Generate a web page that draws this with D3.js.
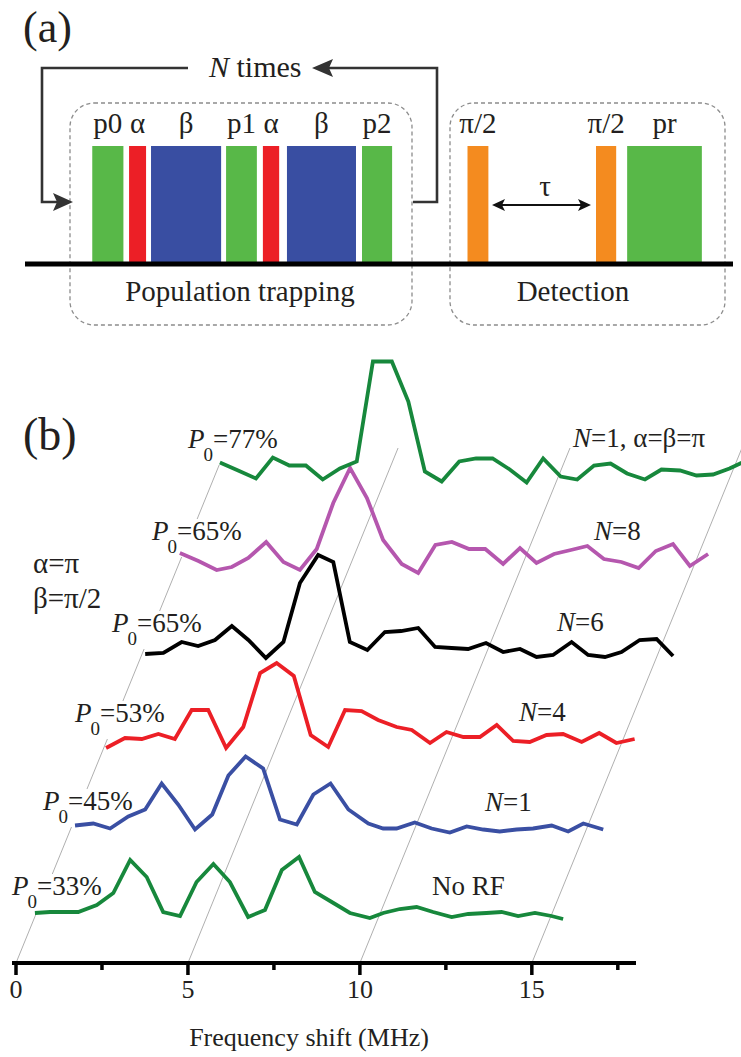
<!DOCTYPE html>
<html><head><meta charset="utf-8">
<script src="https://cdn.jsdelivr.net/npm/d3@7"></script>
<style>
body{margin:0;background:#fff}
svg{display:block}
svg text{font-family:"Liberation Serif","DejaVu Serif","Times New Roman",Times,serif;fill:#231f20}
</style>
</head><body>
<svg id="chart" width="741" height="1057" font-family="Liberation Serif, DejaVu Serif, serif"></svg>
<script>
// ---------- Panel (a): pulse sequence (time in arbitrary units) ----------
const pulseNames  = ["p0","α","β","p1","α","β","p2","π/2","π/2","pr"];
const pulseStart  = [19.0, 29.4, 35.6, 56.8, 67.2, 74.0, 95.2, 125.0, 161.3, 170.1];
const pulseLength = [8.8, 4.8, 19.8, 8.7, 4.6, 19.5, 8.5, 5.9, 5.7, 21.1];
const pulseKind   = ["probe","alpha","beta","probe","alpha","beta","probe","half","half","probe"];

// ---------- Panel (b): spectra ----------
const curveNames = ["No RF","N=1","N=4","N=6","N=8","N=1, α=β=π"];
const p0Values   = ["33%","45%","53%","65%","65%","77%"];

const freq0 = [0.04,0.48,0.82,1.30,1.84,2.32,2.81,3.29,3.77,4.26,4.74,5.23,5.71,6.24,6.73,7.22,7.72,8.18,8.72,9.20,9.78,10.17,10.65,11.14,11.62,12.16,12.64,13.17,13.61,14.09,14.58,15.06,15.40];
const sig0  = [0.07,0.08,0.08,0.08,0.15,0.27,0.60,0.43,0.08,0.04,0.38,0.56,0.38,0.03,0.10,0.50,0.63,0.28,0.17,0.07,0.02,0.07,0.11,0.13,0.08,0.03,0.06,0.07,0.08,0.04,0.07,0.04,0.01];

const freq1 = [0.18,0.71,1.20,1.73,2.22,2.70,3.18,3.67,4.17,4.64,5.14,5.65,6.14,6.63,7.11,7.61,8.13,8.71,9.14,9.53,10.06,10.55,11.08,11.57,12.05,12.53,13.02,13.50,14.04,14.52,14.96,15.54];
const sig1  = [0.08,0.10,0.05,0.17,0.24,0.50,0.29,0.04,0.19,0.58,0.77,0.65,0.14,0.09,0.39,0.50,0.24,0.10,0.05,0.05,0.11,0.05,0.01,0.07,0.04,0.02,0.04,0.05,0.08,0.02,0.10,0.04];

const freq2 = [0.08,0.63,1.12,1.60,2.08,2.57,3.05,3.57,4.07,4.56,5.04,5.54,6.03,6.54,7.03,7.51,7.99,8.53,8.97,9.50,9.98,10.47,10.95,11.44,11.92,12.40,12.89,13.37,13.91,14.42,14.92,15.45];
const sig2  = [0.01,0.11,0.10,0.15,0.10,0.39,0.39,0.01,0.22,0.76,0.86,0.73,0.14,0.02,0.39,0.38,0.29,0.22,0.19,0.06,0.17,0.12,0.12,0.24,0.08,0.07,0.14,0.15,0.07,0.16,0.06,0.10];

const freq3 = [0.15,0.68,1.21,1.69,2.18,2.67,3.15,3.66,4.17,4.65,5.18,5.62,6.10,6.61,7.12,7.59,8.09,8.58,9.06,9.54,10.06,10.56,11.05,11.53,12.01,12.55,13.03,13.52,14.00,14.53,15.02,15.50];
const sig3  = [0.05,0.06,0.17,0.13,0.19,0.33,0.19,0.01,0.17,0.76,1.04,0.97,0.17,0.09,0.27,0.28,0.31,0.12,0.11,0.10,0.16,0.07,0.10,0.02,0.04,0.17,0.04,0.02,0.07,0.19,0.20,0.03];

const freq4 = [0.15,0.69,1.22,1.66,2.14,2.66,3.16,3.64,4.13,4.61,5.10,5.59,6.06,6.60,7.08,7.58,8.06,8.56,9.03,9.55,10.04,10.52,11.03,11.52,12.00,12.48,12.99,13.49,13.99,14.49,14.98,15.51];
const sig4  = [0.21,0.13,0.04,0.07,0.16,0.32,0.12,0.04,0.25,0.71,1.06,0.76,0.34,0.10,0.01,0.29,0.32,0.25,0.25,0.10,0.26,0.11,0.20,0.24,0.28,0.15,0.12,0.06,0.23,0.30,0.08,0.20];

const freq5 = [0.24,0.77,1.29,1.78,2.26,2.74,3.23,3.73,4.22,4.69,5.24,5.72,6.20,6.69,7.20,7.69,8.17,8.67,9.16,9.64,10.15,10.63,11.12,11.60,12.08,12.60,13.08,13.62,14.10,14.58,15.06,15.55];
const sig5  = [0.21,0.13,0.05,0.26,0.18,0.18,0.04,0.15,0.22,1.22,1.22,0.82,0.12,0.02,0.22,0.25,0.25,0.14,0.01,0.25,0.07,0.04,0.18,0.20,0.10,0.04,0.14,0.13,0.08,0.09,0.15,0.23];

const xMajorTicks = [0,5,10,15];
const xMinorTicks = [2.5,7.5,12.5,17.5];
const xTitle = "Frequency shift (MHz)";

// ---------- layout / style ----------
const FONT = '"Liberation Serif","DejaVu Serif","Times New Roman",serif';
const svg = d3.select("#chart");
const C = {green:"#58b848", red:"#ec1f26", blue:"#394ea2", orange:"#f48b1f"};
const pulseColor = {probe:C.green, alpha:C.red, beta:C.blue, half:C.orange};
const curveColors = ["#17883c","#3a4fa3","#ec1f26","#000000","#b557ae","#17883c"];
const planeLift = [43,129.5,214,304,389,479.5];     // vertical lift of each trace plane (px)
const slant = 0.408;                                  // horizontal shift per px of lift
const axisY = 963;

function txt(sel){ return sel.append("text").style("font-family",FONT).attr("fill","#231f20"); }

// Panel (a)
const tScale = d3.scaleLinear().domain([0,200]).range([25,733]);
const barTop = 146, barBottom = 262;

txt(svg).attr("x",23).attr("y",42).attr("font-size",44).text("(a)");

// dashed boxes
[[70,412],[450,725]].forEach(([x0,x1])=>{
  svg.append("rect").attr("x",x0).attr("y",103).attr("width",x1-x0).attr("height",222)
    .attr("rx",24).attr("fill","none").attr("stroke","#8c8c8c").attr("stroke-width",1.3)
    .attr("stroke-dasharray","4,3");
});

// pulses
const pulses = pulseNames.map((n,i)=>({name:n,start:pulseStart[i],len:pulseLength[i],kind:pulseKind[i]}));
svg.append("g").selectAll("rect").data(pulses).join("rect")
  .attr("x",d=>tScale(d.start)).attr("width",d=>tScale(d.start+d.len)-tScale(d.start))
  .attr("y",barTop).attr("height",barBottom-barTop).attr("fill",d=>pulseColor[d.kind]);
svg.append("g").selectAll("text").data(pulses).join("text")
  .style("font-family",FONT).attr("fill","#231f20")
  .attr("x",d=>tScale(d.start+d.len/2)).attr("y",133).attr("text-anchor","middle")
  .attr("font-size",29).text(d=>d.name);

// time baseline
svg.append("line").attr("x1",25).attr("x2",733).attr("y1",264).attr("y2",264)
  .attr("stroke","#000").attr("stroke-width",5);

// loop arrows
const ln = "#333";
svg.append("path").attr("d","M188,68 H42 V202 H60").attr("fill","none").attr("stroke",ln).attr("stroke-width",2.6);
svg.append("path").attr("d","M73,202 L53,193 L57,202 L53,211 Z").attr("fill",ln);
svg.append("path").attr("d","M413,202 H437 V68 H326").attr("fill","none").attr("stroke",ln).attr("stroke-width",2.6);
svg.append("path").attr("d","M312,68 L333,59 L329,68 L333,77 Z").attr("fill",ln);
const nt = txt(svg).attr("x",209).attr("y",77).attr("font-size",30);
nt.append("tspan").attr("font-style","italic").text("N");
nt.append("tspan").text(" times");

// tau arrow
svg.append("line").attr("x1",500).attr("x2",583).attr("y1",205).attr("y2",205).attr("stroke","#111").attr("stroke-width",2.2);
svg.append("path").attr("d","M492,205 L505,199 L502,205 L505,211 Z").attr("fill","#111");
svg.append("path").attr("d","M591,205 L578,199 L581,205 L578,211 Z").attr("fill","#111");
txt(svg).attr("x",545).attr("y",196).attr("text-anchor","middle").attr("font-size",29).text("τ");

txt(svg).attr("x",240).attr("y",301).attr("text-anchor","middle").attr("font-size",29).text("Population trapping");
txt(svg).attr("x",573).attr("y",301).attr("text-anchor","middle").attr("font-size",29).text("Detection");

// Panel (b)
const x = d3.scaleLinear().domain([0,18]).range([16,635]);
const y = d3.scaleLinear().domain([0,1]).range([0,100]);

txt(svg).attr("x",23).attr("y",450).attr("font-size",46).text("(b)");
txt(svg).attr("x",33).attr("y",573).attr("font-size",29).text("α=π");
txt(svg).attr("x",33).attr("y",608).attr("font-size",29).text("β=π/2");

// slanted depth grid
const gridTop = 448;
svg.append("g").selectAll("line").data(xMajorTicks).join("line")
  .attr("x1",d=>x(d)).attr("y1",axisY)
  .attr("x2",d=>x(d)+slant*(axisY-gridTop)).attr("y2",gridTop)
  .attr("stroke","#9a9a9a").attr("stroke-width",0.8);

// P0 labels (with white background to mask the grid) and series labels
const p0Pos = [[12,895],[43,810],[75,722],[112,632],[152,540],[188,448]];
const nPos  = [[432,895],[485,811],[519,721],[557,631],[594,540],[573,447]];
const lblG = svg.append("g");
p0Values.forEach((v,i)=>{
  const g = lblG.append("g");
  const t = txt(g).attr("x",p0Pos[i][0]).attr("y",p0Pos[i][1]).attr("font-size",27);
  t.append("tspan").attr("font-style","italic").text("P");
  t.append("tspan").attr("font-size",19).attr("dy",13).attr("dx",-1).text("0");
  t.append("tspan").attr("dy",-13).text("="+v);
  const bb = t.node().getBBox();
  g.insert("rect","text").attr("x",bb.x-1).attr("y",bb.y+3).attr("width",bb.width+2).attr("height",bb.height-3).attr("fill","#fff");
});
curveNames.forEach((name,i)=>{
  const t = txt(lblG).attr("x",nPos[i][0]).attr("y",nPos[i][1]).attr("font-size",27);
  if(name.startsWith("N=")){
    t.append("tspan").attr("font-style","italic").text("N");
    t.append("tspan").text(name.slice(1));
  } else t.text(name);
});

// traces
const freqs = [freq0,freq1,freq2,freq3,freq4,freq5];
const sigs  = [sig0,sig1,sig2,sig3,sig4,sig5];
const line = d3.line().x(d=>d[0]).y(d=>d[1]);
const traceG = svg.append("g");
freqs.forEach((fr,k)=>{
  const lift = planeLift[k], dx = slant*lift;
  const pts = fr.map((f,j)=>[x(f)+dx, axisY-lift-y(sigs[k][j])]);
  traceG.append("path").attr("d",line(pts)).attr("fill","none")
    .attr("stroke",curveColors[k]).attr("stroke-width",3.8)
    .attr("stroke-linejoin","miter").attr("stroke-miterlimit",3);
});

// frequency axis
const axisG = svg.append("g");
axisG.append("line").attr("x1",12).attr("x2",636).attr("y1",axisY).attr("y2",axisY)
  .attr("stroke","#000").attr("stroke-width",4);
axisG.selectAll("line.maj").data(xMajorTicks).join("line").attr("class","maj")
  .attr("x1",d=>x(d)).attr("x2",d=>x(d)).attr("y1",axisY).attr("y2",axisY+12)
  .attr("stroke","#000").attr("stroke-width",3.5);
axisG.selectAll("line.min").data(xMinorTicks).join("line").attr("class","min")
  .attr("x1",d=>x(d)).attr("x2",d=>x(d)).attr("y1",axisY).attr("y2",axisY+7)
  .attr("stroke","#000").attr("stroke-width",3.5);
axisG.selectAll("text").data(xMajorTicks).join("text")
  .style("font-family",FONT).attr("fill","#231f20")
  .attr("x",d=>x(d)).attr("y",998).attr("text-anchor","middle").attr("font-size",26).text(d=>d);
txt(svg).attr("x",309).attr("y",1046).attr("text-anchor","middle").attr("font-size",26).text(xTitle);
</script>
</body></html>
